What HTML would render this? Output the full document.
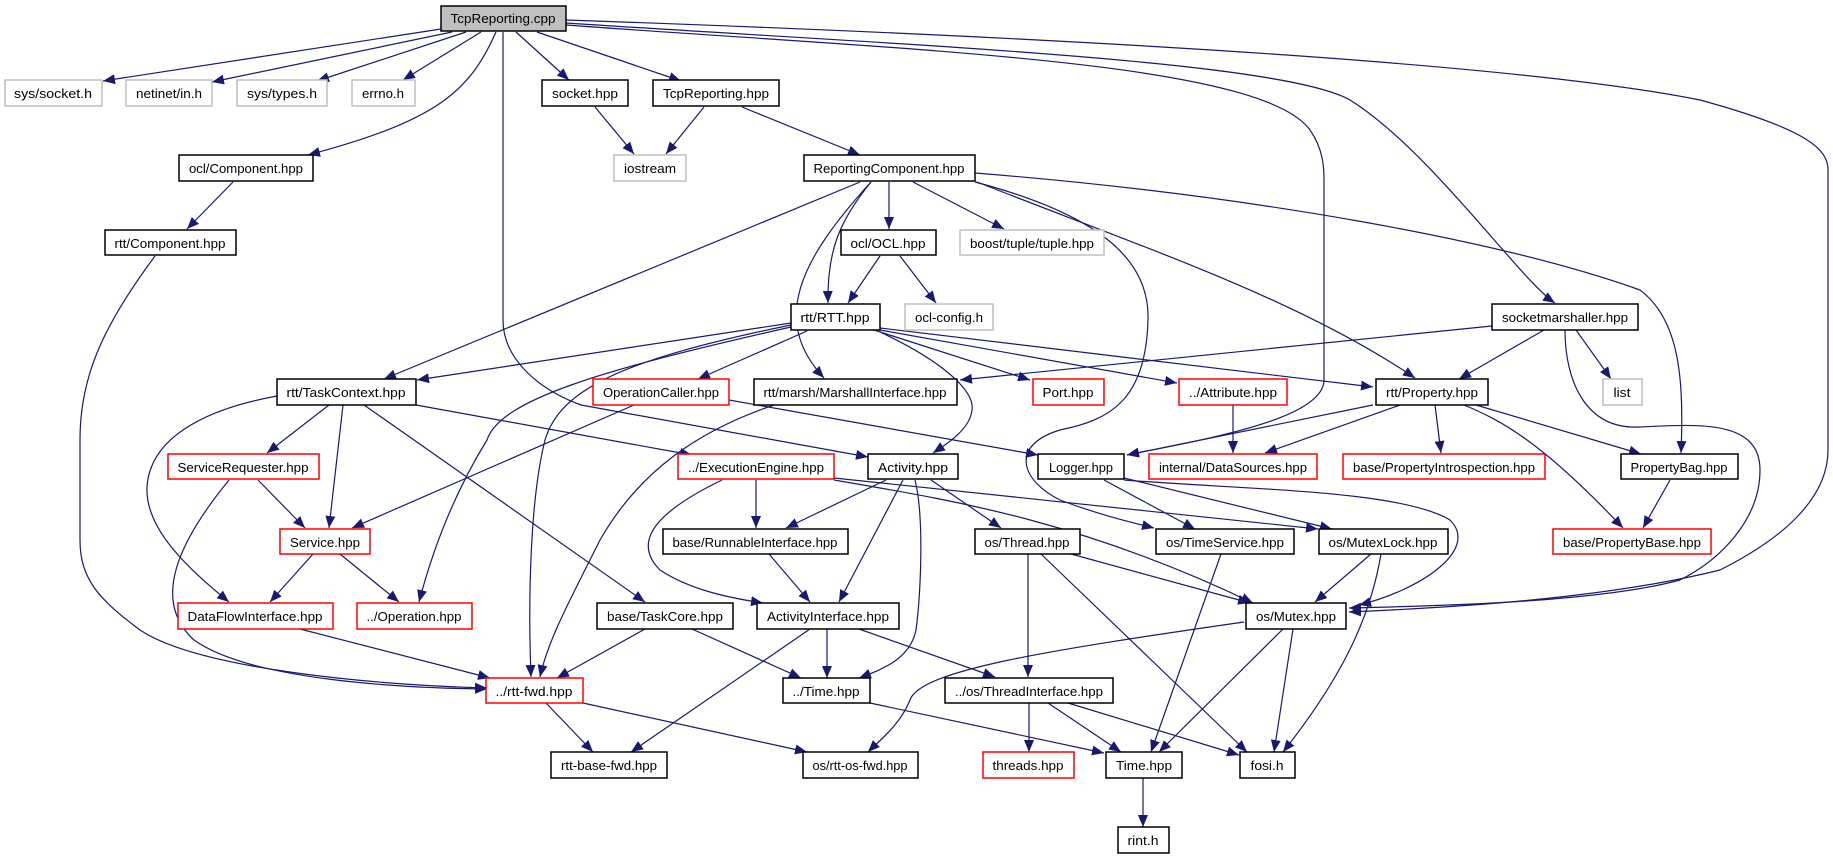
<!DOCTYPE html>
<html><head><meta charset="utf-8"><style>
html,body{margin:0;padding:0;background:#fff;}
svg{display:block;}
text{font-family:"Liberation Sans",sans-serif;font-size:13px;fill:#000;text-anchor:middle;}
.e{fill:none;stroke:#191970;stroke-width:1.2;marker-end:url(#a);}
.b{fill:#fff;stroke:#000;stroke-width:1.5;}
.g{fill:#fff;stroke:#bfbfbf;stroke-width:1.5;}
.r{fill:#fff;stroke:#ff0000;stroke-width:1.5;}
</style></head><body>
<svg width="1833" height="859" viewBox="0 0 1833 859" xmlns="http://www.w3.org/2000/svg">
<defs><marker id="a" markerUnits="userSpaceOnUse" markerWidth="13" markerHeight="10" refX="12" refY="5" orient="auto"><path d="M0,0 L12,5 L0,10 z" fill="#191970"/></marker></defs>
<g>
<path class="e" d="M441,29 L103,81"/>
<path class="e" d="M452,32 L212,82"/>
<path class="e" d="M466,32 L317,81"/>
<path class="e" d="M481,32 L403,80"/>
<path class="e" d="M496,32 C470,90 440,120 308,155"/>
<path class="e" d="M503,32 L503,320 C503,360 540,390 581,405 L868,457"/>
<path class="e" d="M516,32 L569,80"/>
<path class="e" d="M537,32 L681,81"/>
<path class="e" d="M566,25 C900,50 1260,60 1310,130 C1324,150 1324,170 1324,180 L1324,380 C1324,420 1200,440 1127,455"/>
<path class="e" d="M566,23 C900,45 1280,60 1350,100 C1430,150 1520,280 1555,303"/>
<path class="e" d="M566,20 C1000,35 1500,60 1700,100 C1810,130 1828,150 1828,170 L1828,450 C1828,500 1780,540 1720,570 C1600,600 1440,608 1349,612"/>
<path class="e" d="M704,107 L666,154"/>
<path class="e" d="M595,107 L634,154"/>
<path class="e" d="M742,107 L860,155"/>
<path class="e" d="M233,182 L187,229"/>
<path class="e" d="M155,256 C100,330 80,380 80,440 L80,540 C80,580 100,600 140,630 C200,670 380,685 487,688"/>
<path class="e" d="M860,182 L384,379"/>
<path class="e" d="M871,182 C840,220 827,250 828,303"/>
<path class="e" d="M871,182 C800,260 770,320 824,378"/>
<path class="e" d="M889,182 L889,229"/>
<path class="e" d="M913,182 L1004,229"/>
<path class="e" d="M975,182 C1100,215 1150,260 1148,320 C1146,400 1110,420 1060,430 C1010,445 1020,480 1060,500 C1100,515 1130,522 1154,528"/>
<path class="e" d="M977,182 C1150,250 1300,300 1415,378"/>
<path class="e" d="M975,173 C1250,195 1500,240 1640,290 C1680,320 1684,380 1681,453"/>
<path class="e" d="M880,256 L848,303"/>
<path class="e" d="M900,256 L936,303"/>
<path class="e" d="M791,323 L417,380"/>
<path class="e" d="M807,331 L698,379"/>
<path class="e" d="M791,325 C620,360 560,390 545,440 C530,500 528,600 531,677"/>
<path class="e" d="M791,327 C600,370 500,400 487,440 C450,500 430,560 419,602"/>
<path class="e" d="M874,330 L1030,380"/>
<path class="e" d="M880,330 L1177,383"/>
<path class="e" d="M880,328 L1373,387"/>
<path class="e" d="M880,332 C940,360 975,390 972,410 C970,430 945,445 933,453"/>
<path class="e" d="M1492,326 L960,380"/>
<path class="e" d="M1544,330 L1459,379"/>
<path class="e" d="M1576,330 L1611,379"/>
<path class="e" d="M1565,330 C1565,380 1585,430 1640,427 C1700,424 1760,420 1760,470 C1760,520 1720,560 1680,580 C1600,602 1440,606 1349,608"/>
<path class="e" d="M329,405 L267,453"/>
<path class="e" d="M343,405 L329,528"/>
<path class="e" d="M277,396 C200,410 150,440 147,487 C145,530 190,570 229,602"/>
<path class="e" d="M364,405 L645,602"/>
<path class="e" d="M416,405 L692,455"/>
<path class="e" d="M634,405 L352,528"/>
<path class="e" d="M729,400 L1038,455"/>
<path class="e" d="M774,405 C700,430 640,470 600,540 C570,600 548,640 540,677"/>
<path class="e" d="M1233,405 L1233,453"/>
<path class="e" d="M1373,405 L1127,455"/>
<path class="e" d="M1400,405 L1265,453"/>
<path class="e" d="M1435,405 L1441,453"/>
<path class="e" d="M1464,405 C1500,420 1540,440 1623,528"/>
<path class="e" d="M1476,405 L1641,454"/>
<path class="e" d="M1670,480 L1643,528"/>
<path class="e" d="M258,480 L305,528"/>
<path class="e" d="M229,480 C180,540 150,600 194,640 C250,680 400,688 487,689"/>
<path class="e" d="M313,554 L270,602"/>
<path class="e" d="M340,554 L399,602"/>
<path class="e" d="M300,629 L490,678"/>
<path class="e" d="M756,480 L756,528"/>
<path class="e" d="M722,480 C660,510 630,540 660,570 C690,590 730,598 763,603"/>
<path class="e" d="M834,478 L1318,529"/>
<path class="e" d="M834,480 C950,500 1080,520 1253,603"/>
<path class="e" d="M886,480 L786,528"/>
<path class="e" d="M903,480 L839,602"/>
<path class="e" d="M915,480 C925,520 920,600 916,630 C910,660 880,670 859,678"/>
<path class="e" d="M931,480 L1001,528"/>
<path class="e" d="M1104,480 L1195,529"/>
<path class="e" d="M1124,478 L1332,529"/>
<path class="e" d="M1124,480 C1250,490 1400,490 1450,520 C1480,550 1420,590 1359,605"/>
<path class="e" d="M769,554 L810,602"/>
<path class="e" d="M1028,554 L1028,677"/>
<path class="e" d="M1071,554 L1250,603"/>
<path class="e" d="M1041,554 L1247,752"/>
<path class="e" d="M1221,554 L1151,752"/>
<path class="e" d="M1371,554 L1315,602"/>
<path class="e" d="M1381,554 C1370,620 1340,680 1283,752"/>
<path class="e" d="M645,629 L557,678"/>
<path class="e" d="M692,629 L801,678"/>
<path class="e" d="M827,629 L827,678"/>
<path class="e" d="M810,629 L631,752"/>
<path class="e" d="M859,629 L995,677"/>
<path class="e" d="M1244,622 C1050,650 920,670 910,700 C900,725 880,740 868,752"/>
<path class="e" d="M1283,629 L1159,752"/>
<path class="e" d="M1293,629 L1274,752"/>
<path class="e" d="M546,703 L593,752"/>
<path class="e" d="M583,703 L807,752"/>
<path class="e" d="M870,703 L1104,753"/>
<path class="e" d="M1029,703 L1029,752"/>
<path class="e" d="M1048,703 L1121,752"/>
<path class="e" d="M1068,703 L1239,755"/>
<path class="e" d="M1143,778 L1143,827"/>
</g>
<g>
<rect x="441" y="6" width="125" height="25" fill="#bfbfbf" stroke="#000" stroke-width="1.5"/><text x="503" y="23" textLength="105" lengthAdjust="spacingAndGlyphs">TcpReporting.cpp</text>
<rect class="g" x="5" y="80" width="97" height="26"/><text x="53" y="98" textLength="78" lengthAdjust="spacingAndGlyphs">sys/socket.h</text>
<rect class="g" x="126" y="80" width="86" height="26"/><text x="169" y="98" textLength="66" lengthAdjust="spacingAndGlyphs">netinet/in.h</text>
<rect class="g" x="237" y="80" width="90" height="26"/><text x="282" y="98" textLength="70" lengthAdjust="spacingAndGlyphs">sys/types.h</text>
<rect class="g" x="352" y="80" width="63" height="26"/><text x="383" y="98" textLength="42" lengthAdjust="spacingAndGlyphs">errno.h</text>
<rect class="b" x="542" y="80" width="86" height="26"/><text x="585" y="98" textLength="66" lengthAdjust="spacingAndGlyphs">socket.hpp</text>
<rect class="b" x="653" y="80" width="126" height="26"/><text x="716" y="98" textLength="106" lengthAdjust="spacingAndGlyphs">TcpReporting.hpp</text>
<rect class="b" x="179" y="155" width="134" height="26"/><text x="246" y="173" textLength="114" lengthAdjust="spacingAndGlyphs">ocl/Component.hpp</text>
<rect class="g" x="614" y="155" width="72" height="26"/><text x="650" y="173" textLength="52" lengthAdjust="spacingAndGlyphs">iostream</text>
<rect class="b" x="804" y="155" width="171" height="26"/><text x="889" y="173" textLength="151" lengthAdjust="spacingAndGlyphs">ReportingComponent.hpp</text>
<rect class="b" x="105" y="230" width="131" height="25"/><text x="170" y="248" textLength="111" lengthAdjust="spacingAndGlyphs">rtt/Component.hpp</text>
<rect class="b" x="841" y="230" width="95" height="25"/><text x="888" y="248" textLength="75" lengthAdjust="spacingAndGlyphs">ocl/OCL.hpp</text>
<rect class="g" x="960" y="230" width="144" height="25"/><text x="1032" y="248" textLength="124" lengthAdjust="spacingAndGlyphs">boost/tuple/tuple.hpp</text>
<rect class="b" x="791" y="304" width="89" height="26"/><text x="835" y="322" textLength="69" lengthAdjust="spacingAndGlyphs">rtt/RTT.hpp</text>
<rect class="g" x="905" y="304" width="88" height="26"/><text x="949" y="322" textLength="68" lengthAdjust="spacingAndGlyphs">ocl-config.h</text>
<rect class="b" x="1492" y="304" width="146" height="26"/><text x="1565" y="322" textLength="126" lengthAdjust="spacingAndGlyphs">socketmarshaller.hpp</text>
<rect class="b" x="277" y="379" width="139" height="26"/><text x="346" y="397" textLength="119" lengthAdjust="spacingAndGlyphs">rtt/TaskContext.hpp</text>
<rect class="r" x="593" y="379" width="136" height="26"/><text x="661" y="397" textLength="116" lengthAdjust="spacingAndGlyphs">OperationCaller.hpp</text>
<rect class="b" x="754" y="379" width="203" height="26"/><text x="855" y="397" textLength="183" lengthAdjust="spacingAndGlyphs">rtt/marsh/MarshallInterface.hpp</text>
<rect class="r" x="1033" y="379" width="71" height="26"/><text x="1068" y="397" textLength="51" lengthAdjust="spacingAndGlyphs">Port.hpp</text>
<rect class="r" x="1179" y="379" width="108" height="26"/><text x="1233" y="397" textLength="88" lengthAdjust="spacingAndGlyphs">../Attribute.hpp</text>
<rect class="b" x="1376" y="379" width="112" height="26"/><text x="1432" y="397" textLength="92" lengthAdjust="spacingAndGlyphs">rtt/Property.hpp</text>
<rect class="g" x="1603" y="379" width="39" height="26"/><text x="1622" y="397" textLength="17" lengthAdjust="spacingAndGlyphs">list</text>
<rect class="r" x="168" y="454" width="151" height="25"/><text x="243" y="472" textLength="131" lengthAdjust="spacingAndGlyphs">ServiceRequester.hpp</text>
<rect class="r" x="678" y="454" width="156" height="25"/><text x="756" y="472" textLength="136" lengthAdjust="spacingAndGlyphs">../ExecutionEngine.hpp</text>
<rect class="b" x="868" y="454" width="90" height="25"/><text x="913" y="472" textLength="70" lengthAdjust="spacingAndGlyphs">Activity.hpp</text>
<rect class="b" x="1038" y="454" width="86" height="25"/><text x="1081" y="472" textLength="64" lengthAdjust="spacingAndGlyphs">Logger.hpp</text>
<rect class="r" x="1149" y="454" width="168" height="25"/><text x="1233" y="472" textLength="148" lengthAdjust="spacingAndGlyphs">internal/DataSources.hpp</text>
<rect class="r" x="1343" y="454" width="202" height="25"/><text x="1444" y="472" textLength="182" lengthAdjust="spacingAndGlyphs">base/PropertyIntrospection.hpp</text>
<rect class="b" x="1621" y="454" width="117" height="25"/><text x="1679" y="472" textLength="97" lengthAdjust="spacingAndGlyphs">PropertyBag.hpp</text>
<rect class="r" x="280" y="529" width="90" height="25"/><text x="325" y="547" textLength="70" lengthAdjust="spacingAndGlyphs">Service.hpp</text>
<rect class="b" x="663" y="529" width="185" height="25"/><text x="755" y="547" textLength="165" lengthAdjust="spacingAndGlyphs">base/RunnableInterface.hpp</text>
<rect class="b" x="975" y="529" width="105" height="25"/><text x="1027" y="547" textLength="85" lengthAdjust="spacingAndGlyphs">os/Thread.hpp</text>
<rect class="b" x="1156" y="529" width="138" height="25"/><text x="1225" y="547" textLength="118" lengthAdjust="spacingAndGlyphs">os/TimeService.hpp</text>
<rect class="b" x="1319" y="529" width="129" height="25"/><text x="1383" y="547" textLength="109" lengthAdjust="spacingAndGlyphs">os/MutexLock.hpp</text>
<rect class="r" x="1553" y="529" width="158" height="25"/><text x="1632" y="547" textLength="138" lengthAdjust="spacingAndGlyphs">base/PropertyBase.hpp</text>
<rect class="r" x="178" y="603" width="155" height="26"/><text x="255" y="621" textLength="135" lengthAdjust="spacingAndGlyphs">DataFlowInterface.hpp</text>
<rect class="r" x="357" y="603" width="115" height="26"/><text x="414" y="621" textLength="95" lengthAdjust="spacingAndGlyphs">../Operation.hpp</text>
<rect class="b" x="597" y="603" width="136" height="26"/><text x="665" y="621" textLength="116" lengthAdjust="spacingAndGlyphs">base/TaskCore.hpp</text>
<rect class="b" x="757" y="603" width="142" height="26"/><text x="828" y="621" textLength="122" lengthAdjust="spacingAndGlyphs">ActivityInterface.hpp</text>
<rect class="b" x="1246" y="603" width="100" height="26"/><text x="1296" y="621" textLength="80" lengthAdjust="spacingAndGlyphs">os/Mutex.hpp</text>
<rect class="r" x="486" y="678" width="97" height="25"/><text x="534" y="696" textLength="77" lengthAdjust="spacingAndGlyphs">../rtt-fwd.hpp</text>
<rect class="b" x="783" y="678" width="87" height="25"/><text x="826" y="696" textLength="67" lengthAdjust="spacingAndGlyphs">../Time.hpp</text>
<rect class="b" x="945" y="678" width="168" height="25"/><text x="1029" y="696" textLength="148" lengthAdjust="spacingAndGlyphs">../os/ThreadInterface.hpp</text>
<rect class="b" x="551" y="752" width="116" height="26"/><text x="609" y="770" textLength="96" lengthAdjust="spacingAndGlyphs">rtt-base-fwd.hpp</text>
<rect class="b" x="803" y="752" width="115" height="26"/><text x="860" y="770" textLength="95" lengthAdjust="spacingAndGlyphs">os/rtt-os-fwd.hpp</text>
<rect class="r" x="983" y="752" width="91" height="26"/><text x="1028" y="770" textLength="71" lengthAdjust="spacingAndGlyphs">threads.hpp</text>
<rect class="b" x="1106" y="752" width="76" height="26"/><text x="1144" y="770" textLength="56" lengthAdjust="spacingAndGlyphs">Time.hpp</text>
<rect class="b" x="1240" y="752" width="55" height="26"/><text x="1267" y="770" textLength="33" lengthAdjust="spacingAndGlyphs">fosi.h</text>
<rect class="b" x="1118" y="827" width="51" height="26"/><text x="1143" y="845" textLength="31" lengthAdjust="spacingAndGlyphs">rint.h</text>
</g>
</svg>
</body></html>
